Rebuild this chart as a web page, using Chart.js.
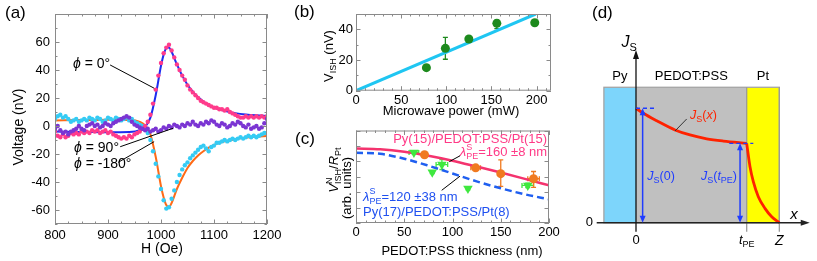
<!DOCTYPE html>
<html>
<head>
<meta charset="utf-8">
<script src="https://cdn.jsdelivr.net/npm/chart.js@4.4.0/dist/chart.umd.min.js"></script>
<style>
  body { margin: 0; background: #fff; }
  #wrap { position: relative; width: 817px; height: 261px; overflow: hidden; }
  canvas { position: absolute; }
</style>
</head>
<body>
<div id="wrap">
  <canvas id="chartA" width="290" height="261" style="left:0;top:0"></canvas>
  <canvas id="chartB" width="290" height="125" style="left:290px;top:0"></canvas>
  <canvas id="chartC" width="290" height="136" style="left:290px;top:125px"></canvas>
  <canvas id="chartD" width="237" height="261" style="left:580px;top:0"></canvas>
</div>
<script>
// (a) ISHE voltage vs field, three angles
const fieldH = [800, 805, 810, 815, 820, 825, 830, 835, 840, 845, 850, 855, 860, 865, 870, 875, 880, 885, 890, 895,
  900, 905, 910, 915, 920, 925, 930, 935, 940, 945, 950, 955, 960, 965, 970, 975, 980, 985, 990, 995,
  1000, 1005, 1010, 1015, 1020, 1025, 1030, 1035, 1040, 1045, 1050, 1055, 1060, 1065, 1070, 1075, 1080, 1085, 1090, 1095,
  1100, 1105, 1110, 1115, 1120, 1125, 1130, 1135, 1140, 1145, 1150, 1155, 1160, 1165, 1170, 1175, 1180, 1185, 1190, 1195, 1200];
const volt0 = [-4, -7, -8, -6, -8, -7, -5, -6, -5, -6, -4, -5, -4, -5, -3, -4, -3, -5, -4, -3,
  -5, -4, -6, -7, -8, -9, -8, -9, -7, -8, -6, -5, -4, -2, 0, 3, 8, 16, 26, 36,
  45, 52, 56, 58, 54, 49, 44, 40, 36, 33, 29, 26, 24, 22, 20, 18, 17, 16, 15, 14,
  13, 13, 12, 12, 11, 12, 10, 9, 8, 7, 6, 6, 7, 6, 7, 6, 7, 6, 7, 6, 7];
const volt90 = [-2, 0, -3, -5, -4, -6, -4, -3, -2, 0, -2, -3, 0, 1, 2, 0, 1, -1, 0, 2,
  1, 0, 2, 3, 4, 5, 6, 7, 6, 3, 1, 0, -1, -2, -3, -2, -4, -3, -2, -4,
  -3, -1, -2, 0, -1, 1, 0, -1, 1, 0, 2, 1, 3, 1, 0, 2, 1, 3, 2, 4,
  3, 1, 0, 2, 1, -1, 0, 2, 1, 3, 2, 0, -1, 1, -2, -1, 0, -2, -1, 2, 5];
const volt180 = [5, 7, 8, 6, 7, 5, 3, 4, 5, 3, 4, 5, 4, 6, 5, 4, 6, 5, 3, 4,
  6, 5, 4, 6, 5, 4, 5, 6, 4, 5, 3, 2, 1, 0, -2, -5, -10, -18, -27, -36,
  -45, -53, -59, -58, -52, -46, -40, -35, -31, -28, -26, -23, -21, -19, -17, -15, -14, -16, -18, -15,
  -14, -12, -12, -11, -10, -11, -10, -9, -10, -9, -8, -9, -8, -7, -8, -7, -8, -7, -6, -5, -5];
const fitH = [800, 850, 900, 940, 960, 970, 980, 990, 1000, 1005, 1010, 1015, 1020,
  1030, 1040, 1050, 1060, 1070, 1080, 1090, 1100, 1120, 1140, 1160, 1180, 1200];
const fit0 = [-4, -4.2, -4.5, -4.3, -3, -0.5, 6, 22, 43, 51, 55.5, 56, 53,
  44, 36, 29.5, 24.5, 20.5, 17.5, 15, 13.2, 10.8, 9.2, 8.2, 7.6, 7.2];
const fit180 = [4, 4.2, 4.5, 4.3, 3, 0.5, -6, -22, -43, -51, -56.5, -58, -55,
  -45, -37, -30, -25, -21, -18, -15.5, -13.5, -11, -9.4, -8.3, -7.6, -7.2];
const xTicksA = [800, 900, 1000, 1100, 1200];
const yTicksA = [-60, -40, -20, 0, 20, 40, 60];

// (b) V_ISH vs microwave power
const powerMW = [78, 99, 125, 156, 198];
const vishNV = [15, 27.6, 33.7, 43.9, 44.3];
const vishLo = [null, 20.5, 32.3, 40.5, null];
const vishHi = [null, 34.8, 35.1, 46, null];
const linePower = [0, 199];
const lineVish = [0, 50];
const xTicksB = [0, 50, 100, 150, 200];
const yTicksB = [0, 20, 40];

// (c) normalised signal vs PEDOT:PSS thickness
const thickFit = [0, 25, 50, 75, 100, 125, 150, 175, 200];
const fitPt15 = [4.83, 4.78, 4.62, 4.36, 4.04, 3.66, 3.27, 2.86, 2.44];
const fitPt8 = [4.56, 4.49, 4.17, 3.72, 3.21, 2.7, 2.25, 1.86, 1.54];
const thickPt15 = [71, 124, 150, 184];
const signalPt15 = [4.43, 3.58, 3.2, 2.87];
const pt15Lo = [4.35, 3.5, 2.37, 2.31];
const pt15Hi = [4.51, 3.66, 4.09, 3.34];
const pt15XErr = [0, 5, 0, 6];
const thickPt8 = [60, 79, 89, 116, 178];
const signalPt8 = [4.58, 3.29, 3.79, 2.23, 2.44];
const pt8Lo = [4.5, 3.2, 3.47, 2.15, 2.3];
const pt8Hi = [4.66, 3.38, 4.11, 2.31, 2.58];
const pt8XErr = [5, 0, 6, 0, 6];
const xTicksC = [0, 50, 100, 150, 200];

// (d) spin current profile sketch
const layerEdges = [-0.29, 0, 1, 1.295];
const layerNames = ["Py", "PEDOT:PSS", "Pt"];
const layerColors = ["#7dd5fb", "#c0c0c0", "#ffff00"];
const layerTop = 1;
const pedotX = [0, 0.066, 0.187, 0.352, 0.488, 0.639, 0.789, 1];
const pedotJs = [0.845, 0.808, 0.753, 0.685, 0.648, 0.62, 0.603, 0.586];
const ptX = [1, 1.03, 1.06, 1.105, 1.165, 1.226, 1.295];
const ptJs = [0.586, 0.414, 0.303, 0.192, 0.106, 0.044, 0];

const FONT = '"Liberation Sans", Arial, Helvetica, sans-serif';
Chart.defaults.font.family = FONT;
Chart.defaults.font.size = 13;
Chart.defaults.color = "#000";
Chart.defaults.animation = false;

const pts = (xs, ys) => xs.map((x, i) => ({ x, y: ys[i] }));

// text with optional italic, sub- and superscripts
function richText(ctx, x, y, parts, o = {}) {
  const size = o.size || 13;
  const small = Math.round(size * 0.7);
  const font = (sz, it) => `${it ? "italic " : ""}${sz}px ${FONT}`;
  ctx.save();
  ctx.translate(x, y);
  if (o.rot) ctx.rotate(o.rot);
  ctx.fillStyle = o.color || "#000";
  ctx.textBaseline = "middle";
  ctx.textAlign = "left";
  let total = 0;
  const sizes = parts.map(p => {
    ctx.font = font(size, p.it);
    const w = ctx.measureText(p.t).width;
    ctx.font = font(small, false);
    const e = Math.max(p.sub ? ctx.measureText(p.sub).width : 0, p.sup ? ctx.measureText(p.sup).width : 0);
    total += w + e;
    return [w, e];
  });
  let cx = o.align === "center" ? -total / 2 : o.align === "right" ? -total : 0;
  parts.forEach((p, i) => {
    ctx.font = font(size, p.it);
    ctx.fillText(p.t, cx, 0);
    cx += sizes[i][0];
    ctx.font = font(small, false);
    if (p.sub) ctx.fillText(p.sub, cx, size * 0.32);
    if (p.sup) ctx.fillText(p.sup, cx, -size * 0.38);
    cx += sizes[i][1];
  });
  ctx.restore();
}

function segment(ctx, x1, y1, x2, y2, color, width) {
  ctx.save();
  ctx.strokeStyle = color || "#000";
  ctx.lineWidth = width || 1;
  ctx.beginPath();
  ctx.moveTo(x1, y1);
  ctx.lineTo(x2, y2);
  ctx.stroke();
  ctx.restore();
}

function arrowHead(ctx, x, y, ang, len, wid, color) {
  ctx.save();
  ctx.fillStyle = color;
  ctx.translate(x, y);
  ctx.rotate(ang);
  ctx.beginPath();
  ctx.moveTo(0, 0);
  ctx.lineTo(-len, -wid / 2);
  ctx.lineTo(-len, wid / 2);
  ctx.closePath();
  ctx.fill();
  ctx.restore();
}

function errBars(chart, xs, ys, lo, hi, xErr, color) {
  const { ctx, scales: { x, y } } = chart;
  ctx.save();
  ctx.strokeStyle = color;
  ctx.lineWidth = 1.3;
  ctx.beginPath();
  xs.forEach((xv, i) => {
    const px = x.getPixelForValue(xv), py = y.getPixelForValue(ys[i]);
    if (lo[i] != null) {
      const a = y.getPixelForValue(lo[i]), b = y.getPixelForValue(hi[i]);
      ctx.moveTo(px, a); ctx.lineTo(px, b);
      ctx.moveTo(px - 2.5, a); ctx.lineTo(px + 2.5, a);
      ctx.moveTo(px - 2.5, b); ctx.lineTo(px + 2.5, b);
    }
    if (xErr && xErr[i]) {
      const l = x.getPixelForValue(xv - xErr[i]), r = x.getPixelForValue(xv + xErr[i]);
      ctx.moveTo(l, py); ctx.lineTo(r, py);
      ctx.moveTo(l, py - 2.5); ctx.lineTo(l, py + 2.5);
      ctx.moveTo(r, py - 2.5); ctx.lineTo(r, py + 2.5);
    }
  });
  ctx.stroke();
  ctx.restore();
}

// box frame with inward ticks on all four sides
const framePlugin = {
  id: "frame",
  afterDatasetsDraw(chart, args, o) {
    const { ctx, chartArea: a, scales: { x, y } } = chart;
    const steps = (s, step) => {
      const out = [];
      for (let v = Math.ceil(s.min / step - 1e-9) * step; v <= s.max + 1e-9; v += step) out.push(v);
      return out;
    };
    const major = (v, step) => Math.abs(v / step - Math.round(v / step)) < 1e-6;
    ctx.save();
    ctx.strokeStyle = "#8a8a8a";
    ctx.lineWidth = 1;
    ctx.strokeRect(a.left + 0.5, a.top + 0.5, a.width - 1, a.height - 1);
    ctx.beginPath();
    steps(x, o.xMinor).forEach(v => {
      const p = Math.round(x.getPixelForValue(v)) + 0.5;
      const len = major(v, o.xMajor) ? 4.5 : 2.5;
      ctx.moveTo(p, a.top); ctx.lineTo(p, a.top + len);
      ctx.moveTo(p, a.bottom); ctx.lineTo(p, a.bottom - len);
    });
    steps(y, o.yMinor).forEach(v => {
      const p = Math.round(y.getPixelForValue(v)) + 0.5;
      const len = major(v, o.yMajor) ? 4.5 : 2.5;
      ctx.moveTo(a.left, p); ctx.lineTo(a.left + len, p);
      ctx.moveTo(a.right, p); ctx.lineTo(a.right - len, p);
    });
    ctx.stroke();
    ctx.restore();
  }
};

function axis(min, max, ticks, pad, fit) {
  return {
    type: "linear",
    min,
    max,
    grid: { display: false, drawTicks: false },
    border: { display: false },
    ticks: { padding: pad, color: "#000", font: { size: 13 }, callback: v => String(v) },
    afterBuildTicks: s => { s.ticks = ticks.map(v => ({ value: v })); },
    afterFit: fit
  };
}

const noLegend = { legend: { display: false }, tooltip: { enabled: false } };

function buildChartA() {
  const notes = {
    id: "notesA",
    afterDraw(chart) {
      const { ctx, scales: { x, y } } = chart;
      const P = (h, v) => [x.getPixelForValue(h), y.getPixelForValue(v)];
      richText(ctx, 5, 13, [{ t: "(a)" }], { size: 17 });
      richText(ctx, 19, 127, [{ t: "Voltage (nV)" }], { size: 14, align: "center", rot: -Math.PI / 2 });
      richText(ctx, 162, 249, [{ t: "H (Oe)" }], { size: 14, align: "center" });
      segment(ctx, ...P(904, 43.6), ...P(987, 27));
      segment(ctx, ...P(923, -14.8), ...P(1023, -1.6));
      segment(ctx, ...P(919, -26), ...P(987, -11.2));
      richText(ctx, ...P(834, 44.3), [{ t: "ϕ", it: true }, { t: " = 0°" }], { size: 14 });
      richText(ctx, ...P(836, -15.7), [{ t: "ϕ", it: true }, { t: " = 90°" }], { size: 14 });
      richText(ctx, ...P(836, -27), [{ t: "ϕ", it: true }, { t: " = -180°" }], { size: 14 });
    }
  };
  const dots = (ys, color) => ({
    data: pts(fieldH, ys),
    pointRadius: 2.2,
    pointBackgroundColor: color,
    pointBorderWidth: 0,
    showLine: false
  });
  const fit = (ys, color) => ({
    data: pts(fitH, ys),
    showLine: true,
    borderColor: color,
    borderWidth: 2,
    pointRadius: 0,
    cubicInterpolationMode: "monotone"
  });
  new Chart(document.getElementById("chartA"), {
    type: "scatter",
    data: {
      datasets: [
        dots(volt90, "#7b35d3"),
        dots(volt0, "#ff3b8b"),
        dots(volt180, "#35cbf4"),
        fit(fit0, "#1c2cf0"),
        fit(fit180, "#ff6a16")
      ]
    },
    options: {
      responsive: false,
      devicePixelRatio: 1,
      layout: { padding: { left: 0, right: 23, top: 14, bottom: 0 } },
      scales: {
        x: axis(800, 1200, xTicksA, 4, s => { s.height = 37; }),
        y: axis(-70, 80, yTicksA, 5, s => { s.width = 55; })
      },
      plugins: { ...noLegend, frame: { xMajor: 100, xMinor: 25, yMajor: 20, yMinor: 10 } }
    },
    plugins: [framePlugin, notes]
  });
}

function buildChartB() {
  const notes = {
    id: "notesB",
    beforeDatasetsDraw(chart) {
      errBars(chart, powerMW, vishNV, vishLo, vishHi, null, "#1d8a1d");
    },
    afterDraw(chart) {
      const { ctx } = chart;
      richText(ctx, 4, 12, [{ t: "(b)" }], { size: 17 });
      richText(ctx, 39, 56, [{ t: "V", sub: "ISH" }, { t: " (nV)" }], { size: 13, align: "center", rot: -Math.PI / 2 });
      richText(ctx, 161, 111, [{ t: "Microwave power (mW)" }], { size: 13, align: "center" });
    }
  };
  new Chart(document.getElementById("chartB"), {
    type: "scatter",
    data: {
      datasets: [
        {
          data: pts(powerMW, vishNV),
          pointRadius: 4.5,
          pointBackgroundColor: "#1d8a1d",
          pointBorderWidth: 0
        },
        {
          data: pts(linePower, lineVish),
          showLine: true,
          borderColor: "#1fc6f2",
          borderWidth: 3,
          pointRadius: 0
        }
      ]
    },
    options: {
      responsive: false,
      devicePixelRatio: 1,
      layout: { padding: { left: 0, right: 29, top: 14, bottom: 0 } },
      scales: {
        x: axis(0, 216, xTicksB, 2, s => { s.height = 34.3; }),
        y: axis(0, 50, yTicksB, 3, s => { s.width = 66; })
      },
      plugins: { ...noLegend, frame: { xMajor: 50, xMinor: 10, yMajor: 20, yMinor: 10 } }
    },
    plugins: [framePlugin, notes]
  });
}

function buildChartC() {
  const pink = "#ff3a86";
  const blue = "#1f50f0";
  const notes = {
    id: "notesC",
    beforeDatasetsDraw(chart) {
      errBars(chart, thickPt8, signalPt8, pt8Lo, pt8Hi, pt8XErr, "#3fe83f");
      errBars(chart, thickPt15, signalPt15, pt15Lo, pt15Hi, pt15XErr, "#f07a20");
    },
    afterDraw(chart) {
      const { ctx, scales: { x, y } } = chart;
      const P = (t, v) => [x.getPixelForValue(t), y.getPixelForValue(v)];
      richText(ctx, 5, 14, [{ t: "(c)" }], { size: 17 });
      richText(ctx, 44, 45, [{ t: "V", it: true, sup: "N", sub: "ISH" }, { t: "/" }, { t: "R", it: true, sub: "Pt" }],
        { size: 13, align: "center", rot: -Math.PI / 2 });
      richText(ctx, 57, 63, [{ t: "(arb. units)" }], { size: 13, align: "center", rot: -Math.PI / 2 });
      richText(ctx, 172, 126, [{ t: "PEDOT:PSS thickness (nm)" }], { size: 13, align: "center" });
      richText(ctx, ...P(198, 5.39), [{ t: "Py(15)/PEDOT:PSS/Pt(15)" }], { size: 13, align: "right", color: pink });
      richText(ctx, ...P(198, 4.56), [{ t: "λ", it: true, sup: "S", sub: "PE" }, { t: "=160 ±8 nm" }],
        { size: 13, align: "right", color: pink });
      segment(ctx, ...P(96.7, 3.98), ...P(107.8, 4.36));
      segment(ctx, ...P(88.8, 2.12), ...P(107.8, 3.04));
      richText(ctx, ...P(7.3, 1.69), [{ t: "λ", it: true, sup: "S", sub: "PE" }, { t: "=120 ±38 nm" }],
        { size: 13, color: blue });
      richText(ctx, ...P(7.3, 0.71), [{ t: "Py(17)/PEDOT:PSS/Pt(8)" }], { size: 13, color: blue });
    }
  };
  new Chart(document.getElementById("chartC"), {
    type: "scatter",
    data: {
      datasets: [
        {
          data: pts(thickPt15, signalPt15),
          pointRadius: 4.5,
          pointBackgroundColor: "#f07a20",
          pointBorderWidth: 0
        },
        {
          data: pts(thickPt8, signalPt8),
          pointStyle: "triangle",
          rotation: 180,
          pointRadius: 5.5,
          pointBackgroundColor: "#3fe83f",
          pointBorderWidth: 0
        },
        {
          data: pts(thickFit, fitPt15),
          showLine: true,
          borderColor: "#f4336e",
          borderWidth: 2.5,
          pointRadius: 0,
          cubicInterpolationMode: "monotone"
        },
        {
          data: pts(thickFit, fitPt8),
          showLine: true,
          borderColor: "#1f5ff0",
          borderWidth: 2.5,
          borderDash: [7, 4],
          pointRadius: 0,
          cubicInterpolationMode: "monotone"
        }
      ]
    },
    options: {
      responsive: false,
      devicePixelRatio: 1,
      layout: { padding: { left: 66, right: 31, top: 4.5, bottom: 0 } },
      scales: {
        x: axis(0, 200, xTicksC, 2, s => { s.height = 38; }),
        y: { type: "linear", min: 0, max: 6, display: false }
      },
      plugins: { ...noLegend, frame: { xMajor: 50, xMinor: 10, yMajor: 1, yMinor: 1 } }
    },
    plugins: [framePlugin, notes]
  });
}

function buildChartD() {
  const blue = "#1f3cff";
  const sketch = {
    id: "sketchD",
    beforeDatasetsDraw(chart) {
      const { ctx, scales: { x, y } } = chart;
      const top = y.getPixelForValue(layerTop), base = y.getPixelForValue(0);
      layerColors.forEach((c, i) => {
        const l = x.getPixelForValue(layerEdges[i]), r = x.getPixelForValue(layerEdges[i + 1]);
        ctx.fillStyle = c;
        ctx.fillRect(l, top, r - l, base - top);
      });
      const left = x.getPixelForValue(layerEdges[0]);
      const right = x.getPixelForValue(layerEdges[3]);
      ctx.save();
      ctx.strokeStyle = "#a4a4a4";
      ctx.lineWidth = 1.3;
      ctx.strokeRect(left, top, right - left, base - top);
      ctx.restore();
      const tick = y.getPixelForValue(-0.067);
      segment(ctx, x.getPixelForValue(layerEdges[2]), top, x.getPixelForValue(layerEdges[2]), tick, "#9a9a9a", 1.3);
      segment(ctx, right, top, right, tick, "#9a9a9a", 1.3);
    },
    afterDatasetsDraw(chart) {
      const { ctx, scales: { x, y } } = chart;
      const X = v => x.getPixelForValue(v), Y = v => y.getPixelForValue(v);
      const j0 = pedotJs[0], jt = pedotJs[pedotJs.length - 1];
      // axes
      segment(ctx, X(-0.355), Y(0), X(1.5), Y(0), "#222", 1.3);
      segment(ctx, X(0), Y(-0.067), X(0), Y(1.22), "#111", 1.3);
      arrowHead(ctx, X(1.57), Y(0), 0, 9, 6, "#222");
      arrowHead(ctx, X(0), Y(1.276), -Math.PI / 2, 9, 6, "#111");
      // dashed reference levels
      ctx.save();
      ctx.setLineDash([4, 3]);
      segment(ctx, X(0), Y(j0), X(0.187), Y(j0), blue, 1.4);
      segment(ctx, X(0.843), Y(jt), X(1.06), Y(jt), blue, 1.4);
      ctx.restore();
      // double arrows
      [[0.06, j0], [0.94, jt]].forEach(([xv, top]) => {
        segment(ctx, X(xv), Y(0) - 5, X(xv), Y(top) + 5, blue, 1.5);
        arrowHead(ctx, X(xv), Y(top), -Math.PI / 2, 7, 6, blue);
        arrowHead(ctx, X(xv), Y(0), Math.PI / 2, 7, 6, blue);
      });
      segment(ctx, X(0.458), Y(0.766), X(0.352), Y(0.677), "#333", 1);
      // labels
      richText(ctx, 12, 13, [{ t: "(d)" }], { size: 17 });
      layerNames.forEach((n, i) => {
        richText(ctx, X((layerEdges[i] + layerEdges[i + 1]) / 2), Y(1.083), [{ t: n }], { size: 13, align: "center" });
      });
      richText(ctx, X(-0.13), Y(1.327), [{ t: "J", it: true, sub: "S" }], { size: 16 });
      richText(ctx, X(0.488), Y(0.788), [{ t: "J", it: true, sub: "S" }, { t: "(" }, { t: "x", it: true }, { t: ")" }],
        { size: 12.5, color: "#ff2200" });
      richText(ctx, X(0.102), Y(0.34), [{ t: "J", it: true, sub: "S" }, { t: "(0)" }], { size: 12.5, color: blue });
      richText(ctx, X(0.587), Y(0.34), [{ t: "J", it: true, sub: "S" }, { t: "(" }, { t: "t", it: true, sub: "PE" }, { t: ")" }],
        { size: 12.5, color: blue });
      richText(ctx, X(1.427), Y(0.06), [{ t: "x", it: true }], { size: 15, align: "center" });
      richText(ctx, X(-0.388), Y(0), [{ t: "0" }], { size: 13, align: "right" });
      richText(ctx, X(0), Y(-0.133), [{ t: "0" }], { size: 13, align: "center" });
      richText(ctx, X(1), Y(-0.133), [{ t: "t", it: true, sub: "PE" }], { size: 13, align: "center" });
      richText(ctx, X(1.295), Y(-0.133), [{ t: "Z", it: true }], { size: 14, align: "center" });
    }
  };
  const curve = (xs, ys) => ({
    data: pts(xs, ys),
    showLine: true,
    borderColor: "#ff2200",
    borderWidth: 2.8,
    pointRadius: 0,
    cubicInterpolationMode: "monotone"
  });
  new Chart(document.getElementById("chartD"), {
    type: "scatter",
    data: { datasets: [curve(pedotX, pedotJs), curve(ptX, ptJs)] },
    options: {
      responsive: false,
      devicePixelRatio: 1,
      layout: { padding: { left: 0.65, right: 3.9, top: 33.1, bottom: 4.4 } },
      scales: {
        x: { type: "linear", min: -0.5, max: 1.6, display: false },
        y: { type: "linear", min: -0.25, max: 1.4, display: false }
      },
      plugins: noLegend
    },
    plugins: [sketch]
  });
}

document.addEventListener("DOMContentLoaded", () => {
  buildChartA();
  buildChartB();
  buildChartC();
  buildChartD();
});
</script>
</body>
</html>
